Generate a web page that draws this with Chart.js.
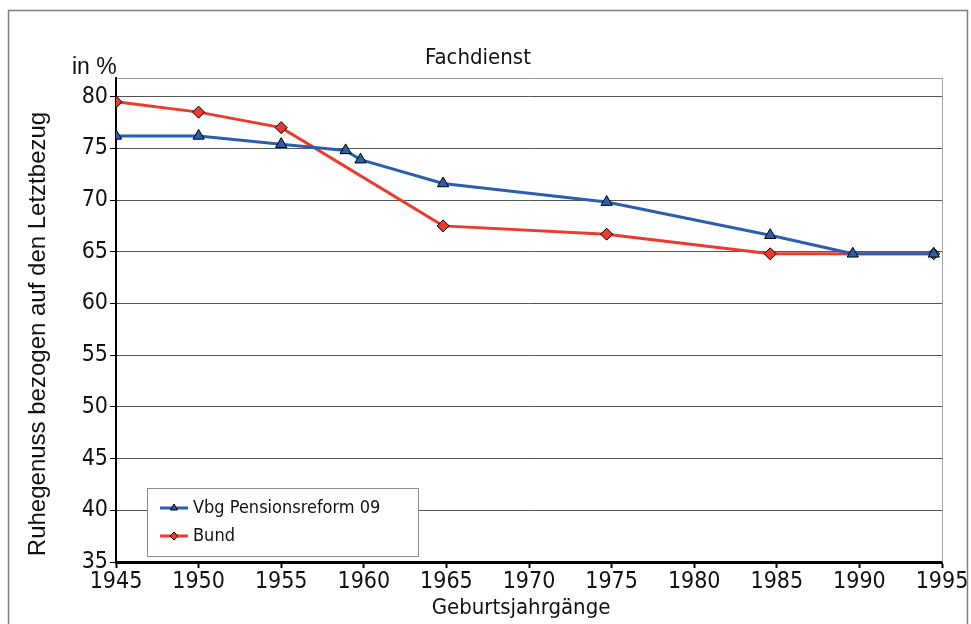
<!DOCTYPE html>
<html>
<head>
<meta charset="utf-8">
<script src="https://cdn.jsdelivr.net/npm/chart.js@4/dist/chart.umd.min.js"></script>
<style>
  html, body { margin: 0; padding: 0; background: #fff; }
  canvas { display: block; }
</style>
</head>
<body>
<canvas id="chart" width="971" height="624"></canvas>
<script>
// values
const vbgYears  = [1945, 1950, 1955, 1958.9, 1959.8, 1964.8, 1974.7, 1984.6, 1989.6, 1994.5];
const vbgValues = [76.2, 76.2, 75.4, 74.8, 73.9, 71.6, 69.8, 66.6, 64.8, 64.8];
const bundYears  = [1945, 1950, 1955, 1964.8, 1974.7, 1984.6, 1994.5];
const bundValues = [79.5, 78.5, 77.0, 67.5, 66.7, 64.8, 64.8];
const seriesNames = ['Vbg Pensionsreform 09', 'Bund'];
const yTicks = [35, 40, 45, 50, 55, 60, 65, 70, 75, 80];

const BLUE = '#2b5fae';
const RED = '#ec3a2d';
const narrow = '"Liberation Sans Narrow", "DejaVu Sans Condensed", Arial, sans-serif';

const decor = {
    id: 'decor',
    beforeDraw(chart) {
        const { ctx } = chart;
        ctx.save();
        ctx.strokeStyle = '#7f7f7f';
        ctx.lineWidth = 1.5;
        ctx.strokeRect(8.5, 10.5, 959, 640);
        ctx.restore();
    },
    afterDatasetsDraw(chart) {
        const { ctx, chartArea: a } = chart;
        ctx.save();
        // right plot border
        ctx.strokeStyle = '#a6a6a6';
        ctx.lineWidth = 1;
        ctx.beginPath();
        ctx.moveTo(a.right + 0.5, a.top);
        ctx.lineTo(a.right + 0.5, a.bottom);
        ctx.stroke();

        // texts
        ctx.fillStyle = '#111';
        ctx.font = '22px ' + narrow;
        ctx.textAlign = 'center';
        ctx.textBaseline = 'middle';
        ctx.fillText('Fachdienst', 478, 58);
        ctx.fillText('Geburtsjahrgänge', 521, 608);
        ctx.textAlign = 'left';
        ctx.font = '23px "Liberation Sans", Arial, sans-serif';
        ctx.fillText('in %', 72, 68);

        ctx.save();
        ctx.translate(38, 334);
        ctx.rotate(-Math.PI / 2);
        ctx.textAlign = 'center';
        ctx.font = '24px "Liberation Sans", Arial, sans-serif';
        ctx.fillText('Ruhegenuss bezogen auf den Letztbezug', 0, 0);
        ctx.restore();

        // legend box
        const lx = 147, ly = 488, lw = 271, lh = 68;
        ctx.fillStyle = '#fff';
        ctx.fillRect(lx, ly, lw, lh);
        ctx.strokeStyle = '#8c8c8c';
        ctx.lineWidth = 1;
        ctx.strokeRect(lx + 0.5, ly + 0.5, lw, lh);

        const rows = [
            { name: seriesNames[0], color: BLUE, style: 'triangle', y: 508 },
            { name: seriesNames[1], color: RED, style: 'rectRot', y: 536 }
        ];
        rows.forEach(r => {
            ctx.strokeStyle = r.color;
            ctx.lineWidth = 3;
            ctx.beginPath();
            ctx.moveTo(160, r.y);
            ctx.lineTo(188, r.y);
            ctx.stroke();
            ctx.fillStyle = r.color;
            ctx.strokeStyle = '#000';
            ctx.lineWidth = 1;
            Chart.helpers.drawPoint(ctx, { pointStyle: r.style, radius: 4, rotation: 0, borderWidth: 1 }, 174, r.y);
            ctx.fillStyle = '#111';
            ctx.font = '18px ' + narrow;
            ctx.textAlign = 'left';
            ctx.textBaseline = 'middle';
            ctx.fillText(r.name, 193, r.y);
        });
        ctx.restore();
    }
};

const toPoints = (xs, ys) => xs.map((x, i) => ({ x, y: ys[i] }));

new Chart(document.getElementById('chart'), {
    type: 'line',
    data: {
        datasets: [
            {
                label: seriesNames[0],
                data: toPoints(vbgYears, vbgValues),
                borderColor: BLUE,
                backgroundColor: BLUE,
                borderWidth: 3,
                pointStyle: 'triangle',
                pointRadius: 6.5,
                pointBorderColor: '#000',
                pointBorderWidth: 1,
                tension: 0
            },
            {
                label: seriesNames[1],
                data: toPoints(bundYears, bundValues),
                borderColor: RED,
                backgroundColor: RED,
                borderWidth: 3,
                pointStyle: 'rectRot',
                pointRadius: 6,
                pointBorderColor: '#000',
                pointBorderWidth: 1,
                tension: 0
            }
        ]
    },
    options: {
        responsive: false,
        animation: false,
        devicePixelRatio: 1,
        layout: { padding: { left: 0, right: 29, top: 78, bottom: 0 } },
        plugins: {
            legend: { display: false },
            tooltip: { enabled: false },
            title: { display: false }
        },
        scales: {
            x: {
                type: 'linear',
                min: 1945,
                max: 1995,
                afterFit: s => { s.height = 62; },
                ticks: {
                    stepSize: 5,
                    color: '#111',
                    font: { family: narrow, size: 23 },
                    padding: 0,
                    maxRotation: 0,
                    callback: v => String(v)
                },
                grid: { drawOnChartArea: false, tickLength: 6, color: '#000', tickWidth: 2 },
                border: { color: '#000', width: 3 }
            },
            y: {
                min: 35,
                max: 81.8,
                afterFit: s => { s.width = 116; },
                afterBuildTicks: s => {
                    s.ticks = yTicks.map(v => ({ value: v })).concat([{ value: 81.8 }]);
                },
                ticks: {
                    color: '#111',
                    font: { family: narrow, size: 23 },
                    padding: 2,
                    callback: v => (yTicks.includes(v) ? String(v) : '')
                },
                grid: {
                    color: ctx => (ctx.tick && ctx.tick.value === 81.8 ? '#9a9a9a' : '#555555'),
                    lineWidth: 1,
                    tickLength: 6,
                    tickColor: ctx => (ctx.tick && ctx.tick.value === 81.8 ? 'rgba(0,0,0,0)' : '#000')
                },
                border: { color: '#000', width: 2 }
            }
        }
    },
    plugins: [decor]
});
</script>
</body>
</html>
